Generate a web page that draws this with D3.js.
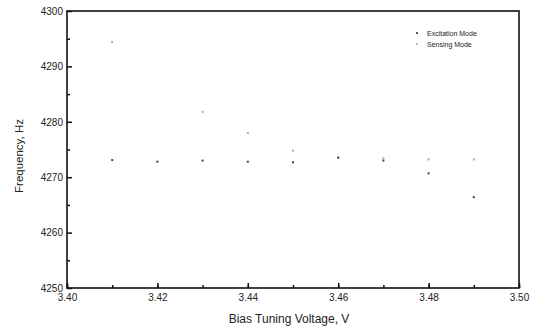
<!DOCTYPE html>
<html>
<head>
<meta charset="utf-8">
<script src="https://cdn.jsdelivr.net/npm/d3@7"></script>
<style>
body { margin: 0; background: #fff; }
text { font-family: "Liberation Sans", Arial, sans-serif; fill: #222; }
</style>
</head>
<body>
<div id="chart"></div>
<script>
// values
var voltages = [3.41, 3.42, 3.43, 3.44, 3.45, 3.46, 3.47, 3.48, 3.49];
var excitation = [4273.1, 4272.8, 4273.0, 4272.8, 4272.7, 4273.5, 4273.0, 4270.7, 4266.4];
var sensingV = [3.41, 3.43, 3.44, 3.45, 3.46, 3.47, 3.48, 3.49];
var sensing = [4294.4, 4281.8, 4278.0, 4274.8, 4273.6, 4273.4, 4273.2, 4273.2];
var xTicks = [3.40, 3.42, 3.44, 3.46, 3.48, 3.50];
var yTicks = [4250, 4260, 4270, 4280, 4290, 4300];
var seriesNames = ["Excitation Mode", "Sensing Mode"];

var width = 536, height = 331;
var margin = {top: 11, right: 17, bottom: 43, left: 67};

var svg = d3.select("#chart").append("svg")
    .attr("width", width)
    .attr("height", height);

var x = d3.scaleLinear()
    .domain([3.40, 3.50])
    .range([margin.left, width - margin.right]);

var y = d3.scaleLinear()
    .domain([4250, 4300])
    .range([height - margin.bottom, margin.top]);

//minor ticks first, inward
svg.append("g")
    .attr("transform", "translate(0," + (height - margin.bottom) + ")")
    .call(d3.axisTop(x).ticks(10).tickSize(3).tickFormat(""))
    .call(function(g){ g.select(".domain").remove(); });
svg.append("g")
    .attr("transform", "translate(" + margin.left + ",0)")
    .call(d3.axisRight(y).tickValues(d3.range(4255, 4300, 10)).tickSize(3).tickFormat(""))
    .call(function(g){ g.select(".domain").remove(); });

//major ticks with labels
var xAxis = svg.append("g")
    .attr("transform", "translate(0," + (height - margin.bottom) + ")")
    .call(d3.axisBottom(x).tickValues(xTicks).tickSize(0).tickPadding(6).tickFormat(d3.format(".2f")));
xAxis.select(".domain").remove();
xAxis.selectAll("text").style("font-size", "10px").attr("fill", "#222");
svg.append("g")
    .attr("transform", "translate(0," + (height - margin.bottom) + ")")
    .call(d3.axisTop(x).tickValues(xTicks).tickSize(5).tickFormat(""))
    .call(function(g){ g.select(".domain").remove(); });

var yAxis = svg.append("g")
    .attr("transform", "translate(" + margin.left + ",0)")
    .call(d3.axisLeft(y).tickValues(yTicks).tickSize(0).tickPadding(4).tickFormat(d3.format("d")));
yAxis.select(".domain").remove();
yAxis.selectAll("text").style("font-size", "10px").attr("fill", "#222");
svg.append("g")
    .attr("transform", "translate(" + margin.left + ",0)")
    .call(d3.axisRight(y).tickValues(yTicks).tickSize(5).tickFormat(""))
    .call(function(g){ g.select(".domain").remove(); });

svg.selectAll(".tick line").attr("stroke", "#111").attr("stroke-width", 1.5);

//frame
svg.append("rect")
    .attr("x", margin.left)
    .attr("y", margin.top)
    .attr("width", width - margin.left - margin.right)
    .attr("height", height - margin.top - margin.bottom)
    .attr("fill", "none")
    .attr("stroke", "#111")
    .attr("stroke-width", 1.6);

//points
svg.selectAll("rect.sens")
    .data(sensingV)
    .enter().append("rect")
    .attr("class", "sens")
    .attr("x", function(d){ return x(d) - 1; })
    .attr("y", function(d, i){ return y(sensing[i]) - 1; })
    .attr("width", 2)
    .attr("height", 2)
    .attr("fill", "#aaa");

svg.selectAll("rect.exc")
    .data(voltages)
    .enter().append("rect")
    .attr("class", "exc")
    .attr("x", function(d){ return x(d) - 1; })
    .attr("y", function(d, i){ return y(excitation[i]) - 1; })
    .attr("width", 2)
    .attr("height", 2)
    .attr("fill", "#444");

//legend
var legend = svg.append("g").attr("transform", "translate(417,33)");
legend.selectAll("rect")
    .data(seriesNames)
    .enter().append("rect")
    .attr("x", -1)
    .attr("y", function(d, i){ return i * 11 - 1; })
    .attr("width", 2)
    .attr("height", 2)
    .attr("fill", function(d, i){ return i == 0 ? "#555" : "#bbb"; });
legend.selectAll("text")
    .data(seriesNames)
    .enter().append("text")
    .attr("x", 10)
    .attr("y", function(d, i){ return i * 11 + 2.5; })
    .style("font-size", "7px")
    .text(function(d){ return d; });

//axis titles
svg.append("text")
    .attr("x", x(3.45) - 4)
    .attr("y", 323)
    .attr("text-anchor", "middle")
    .style("font-size", "12px")
    .text("Bias Tuning Voltage, V");

svg.append("text")
    .attr("transform", "translate(23,156) rotate(-90)")
    .attr("text-anchor", "middle")
    .style("font-size", "11.5px")
    .text("Frequency, Hz");
</script>
</body>
</html>
